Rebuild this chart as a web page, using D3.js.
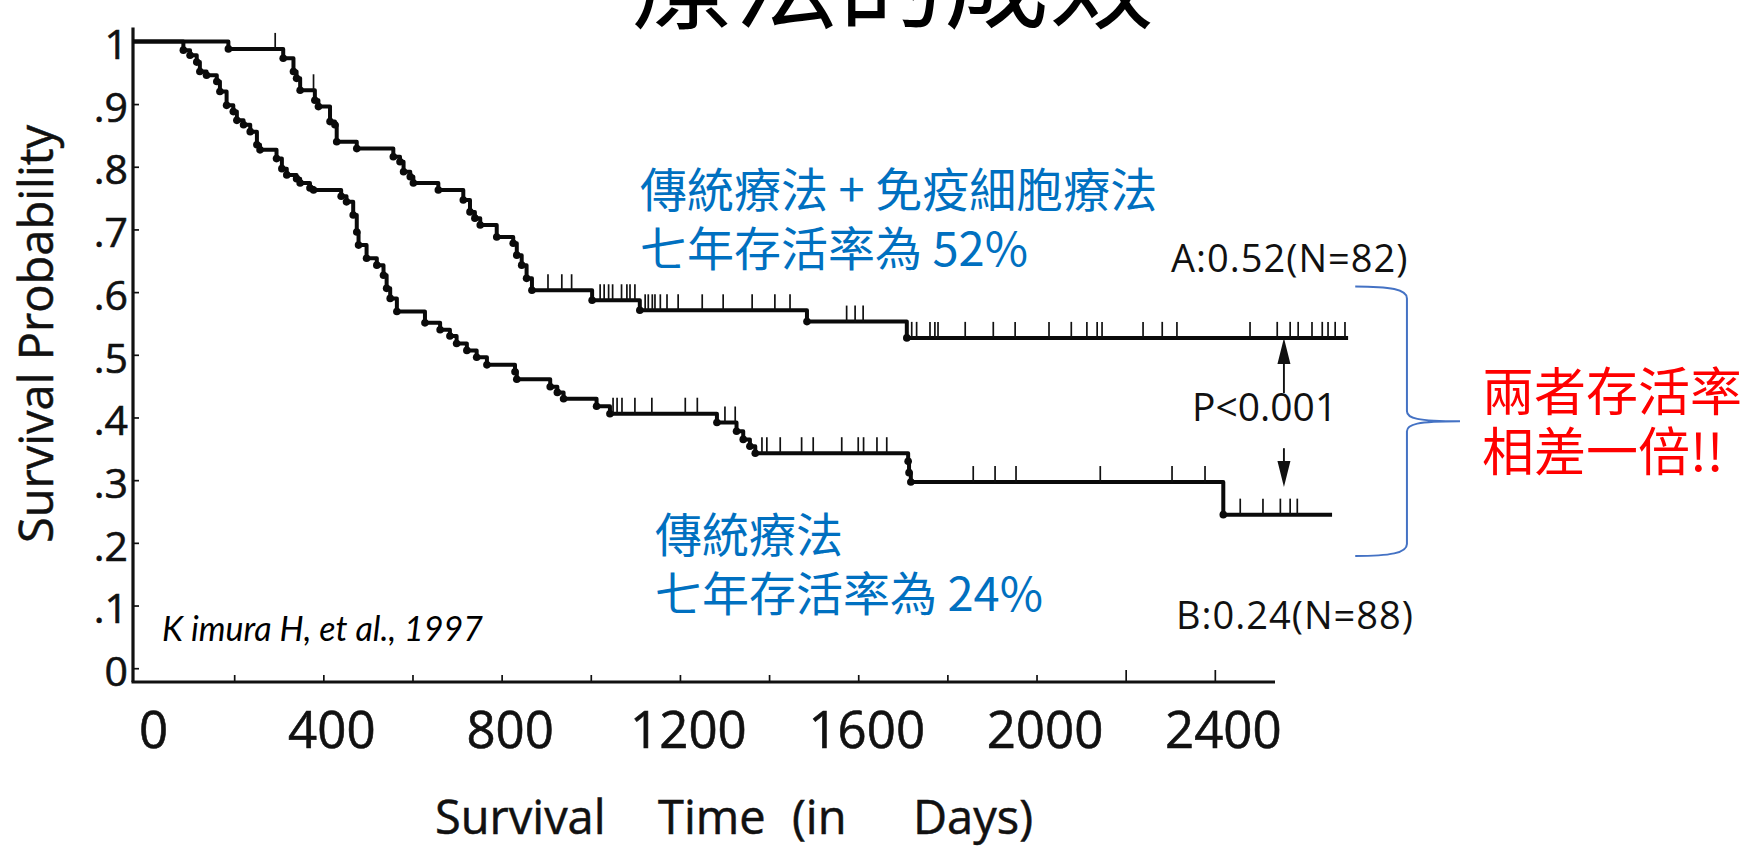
<!DOCTYPE html>
<html><head><meta charset="utf-8">
<script src="https://cdn.jsdelivr.net/npm/d3@7/dist/d3.min.js"></script>
<style>html,body{margin:0;padding:0;background:#fff;overflow:hidden}</style>
</head><body>
<svg id="chart" width="1748" height="847"></svg>
<script>
// ---------- data ----------
const xTickValues = [0, 200, 400, 600, 800, 1000, 1200, 1400, 1600, 1800, 2000, 2200, 2400];
const xLabelValues = [0, 400, 800, 1200, 1600, 2000, 2400];
const yTickValues = [0, 0.1, 0.2, 0.3, 0.4, 0.5, 0.6, 0.7, 0.8, 0.9, 1];
const yTickLabels = ["0", ".1", ".2", ".3", ".4", ".5", ".6", ".7", ".8", ".9", "1"];

// Group A: conventional therapy + immune cell therapy (event times in days, survival after the step)
const timesA = [0, 187, 310, 333, 340, 348, 381, 389, 415, 426, 430, 475, 557, 572, 580, 595, 602, 658,
  714, 729, 740, 752, 789, 826, 834, 845, 856, 868, 1003, 1110, 1485, 1709];
const survA = [1.0, 0.988, 0.973, 0.952, 0.941, 0.922, 0.906, 0.896, 0.872, 0.867, 0.840, 0.829, 0.816, 0.808, 0.792, 0.784, 0.774, 0.763,
  0.747, 0.728, 0.718, 0.707, 0.688, 0.678, 0.659, 0.643, 0.622, 0.603, 0.587, 0.571, 0.553, 0.527];
const censorA = [292, 378, 904, 935, 957, 1021, 1030, 1040, 1049, 1069, 1081, 1088, 1099, 1122, 1129, 1138, 1144,
  1156, 1171, 1196, 1250, 1297, 1362, 1413, 1447, 1574, 1593, 1611, 1720, 1731, 1761, 1772, 1779, 1840, 1903,
  1952, 2028, 2078, 2113, 2136, 2147, 2239, 2282, 2315, 2479, 2540, 2569, 2587, 2618, 2641, 2654, 2670, 2692];
const endA = 2699;

// Group B: conventional therapy
const timesB = [0, 86, 101, 116, 123, 138, 161, 168, 183, 198, 206, 221, 236, 251, 258, 295, 307, 318, 340, 348,
  370, 378, 440, 452, 467, 475, 479, 497, 520, 535, 542, 550, 565, 628, 662, 684, 699, 722, 744, 767, 830,
  834, 909, 925, 939, 1013, 1043, 1283, 1327, 1342, 1357, 1369, 1712, 1714, 1718, 2419];
const survB = [1.0, 0.986, 0.978, 0.967, 0.952, 0.946, 0.936, 0.920, 0.898, 0.888, 0.874, 0.867, 0.856, 0.835, 0.827, 0.813, 0.797, 0.787, 0.781, 0.774,
  0.766, 0.763, 0.753, 0.744, 0.723, 0.696, 0.675, 0.654, 0.643, 0.627, 0.606, 0.590, 0.569, 0.551, 0.540, 0.530, 0.518, 0.507, 0.496, 0.484, 0.473,
  0.461, 0.449, 0.440, 0.430, 0.418, 0.406, 0.392, 0.378, 0.365, 0.354, 0.343, 0.330, 0.312, 0.297, 0.245];
const censorB = [1050, 1059, 1070, 1099, 1137, 1212, 1239, 1301, 1324, 1384, 1395, 1425, 1473, 1499, 1563, 1600,
  1612, 1642, 1664, 1858, 1907, 1954, 2143, 2304, 2378, 2457, 2508, 2547, 2569, 2585];
const endB = 2663;

// annotation values (days / survival)
const arrowDay = 2555;
const arrowUpRange = [0.439, 0.527];
const arrowDownRange = [0.351, 0.289];
const braceDays = [2715, 2831, 2950];
const braceRange = [0.609, 0.394, 0.179];

// ---------- scales ----------
const svg = d3.select("#chart");
const x = d3.scaleLinear().domain([-27, 2535]).range([133, 1275]);
const y = d3.scaleLinear().domain([-0.022, 1.022]).range([682, 27.6]);

// ---------- axes ----------
const gx = svg.append("g").attr("transform", `translate(0,${y.range()[0]})`)
  .call(d3.axisBottom(x).tickValues(xTickValues).tickSizeInner(-8).tickSizeOuter(0).tickPadding(30)
    .tickFormat(d => xLabelValues.includes(d) ? String(d) : ""));
gx.select(".domain").remove();
gx.selectAll(".tick line").attr("stroke", "#111").attr("stroke-width", 1.7)
  .attr("y2", d => d === 0 ? 0 : (d >= 2200 ? -12 : -7));
gx.selectAll(".tick text").attr("font-family", "'Open Sans', sans-serif").attr("font-size", 51)
  .attr("fill", "#111").attr("stroke", "#111").attr("stroke-width", 0.6).attr("dx", 8);

const gy = svg.append("g").attr("transform", `translate(${x.range()[0]},0)`)
  .call(d3.axisLeft(y).tickValues(yTickValues).tickSizeInner(-6).tickSizeOuter(0).tickPadding(5)
    .tickFormat((d, i) => yTickLabels[i]));
gy.select(".domain").remove();
gy.selectAll(".tick line").attr("stroke", "#111").attr("stroke-width", 1.7);
gy.selectAll(".tick text").attr("font-family", "'Open Sans', sans-serif").attr("font-size", 41)
  .attr("fill", "#111").attr("stroke", "#111").attr("stroke-width", 0.6).attr("dy", "0.42em");

// axis lines
svg.append("line").attr("x1", x.range()[0]).attr("x2", x.range()[0])
  .attr("y1", y.range()[0]).attr("y2", y.range()[1])
  .attr("stroke", "#111").attr("stroke-width", 3.2);
svg.append("line").attr("x1", x.range()[0] - 1.5).attr("x2", x.range()[1])
  .attr("y1", y.range()[0]).attr("y2", y.range()[0])
  .attr("stroke", "#111").attr("stroke-width", 2.8);

// ---------- survival curves ----------
function series(times, surv, end) {
  const pts = times.map((t, i) => [i === 0 ? x.domain()[0] : t, surv[i]]);
  pts.push([end, surv[surv.length - 1]]);
  return pts;
}
function survAt(times, surv, t) {
  let v = surv[0];
  for (let i = 0; i < times.length; i++) if (times[i] <= t) v = surv[i];
  return v;
}
const line = d3.line().x(d => x(d[0])).y(d => y(d[1])).curve(d3.curveStepAfter);

[[timesA, survA, censorA, endA], [timesB, survB, censorB, endB]].forEach(([T, S, C, E]) => {
  svg.append("path").datum(series(T, S, E)).attr("d", line)
    .attr("fill", "none").attr("stroke", "#0a0a0a").attr("stroke-width", 4)
    .attr("stroke-linejoin", "round");
  svg.append("g").selectAll("circle").data(T.slice(1)).join("circle")
    .attr("cx", t => x(t)).attr("cy", (t, i) => y(S[i + 1])).attr("r", 3.8).attr("fill", "#0a0a0a");
  svg.append("g").selectAll("line").data(C).join("line")
    .attr("x1", t => x(t)).attr("x2", t => x(t))
    .attr("y1", t => y(survAt(T, S, t))).attr("y2", t => y(survAt(T, S, t)) - 16)
    .attr("stroke", "#111").attr("stroke-width", 1.7);
});

// ---------- P arrows ----------
function arrow(from, to) {
  const xa = x(arrowDay), y0 = y(from), y1 = y(to);
  const dir = Math.sign(y1 - y0);
  svg.append("line").attr("x1", xa).attr("x2", xa).attr("y1", y0).attr("y2", y1 - dir * 20)
    .attr("stroke", "#111").attr("stroke-width", 1.9);
  svg.append("path").attr("d", `M${xa},${y1} L${xa - 6.5},${y1 - dir * 26} L${xa + 6.5},${y1 - dir * 26} Z`)
    .attr("fill", "#111");
}
arrow(arrowUpRange[0], arrowUpRange[1]);
arrow(arrowDownRange[0], arrowDownRange[1]);

// ---------- brace ----------
{
  const [xa, xb, xt] = braceDays.map(x);
  const [yt, ym, yb] = braceRange.map(y);
  const d = `M${xa},${yt} C${xa + 35},${yt} ${xb},${yt + 3} ${xb},${yt + 12} L${xb},${ym - 10} ` +
    `C${xb},${ym - 3} ${xb + 10},${ym} ${xt},${ym} C${xb + 10},${ym} ${xb},${ym + 3} ${xb},${ym + 10} ` +
    `L${xb},${yb - 12} C${xb},${yb - 3} ${xa + 35},${yb} ${xa},${yb}`;
  svg.append("path").attr("d", d).attr("fill", "none").attr("stroke", "#4472C4").attr("stroke-width", 2);
}

// ---------- texts ----------
const sans = "'Open Sans', sans-serif";
const cjk = "'Noto Sans CJK TC', 'Noto Sans CJK SC', sans-serif";

svg.append("text").attr("x", 629).attr("y", 20).attr("font-family", cjk).attr("font-size", 105)
  .attr("fill", "#000").text("療法的成效");

svg.append("text").attr("transform", "translate(53,334) rotate(-90)").attr("text-anchor", "middle")
  .attr("font-family", sans).attr("font-size", 47).attr("fill", "#111")
  .attr("stroke", "#111").attr("stroke-width", 0.5)
  .text("Survival Probability");

const xt = svg.append("text").attr("y", 834).attr("font-family", sans)
  .attr("font-size", 47).attr("fill", "#111").attr("stroke", "#111").attr("stroke-width", 0.5);
[["Survival", 435], ["Time", 658], ["(in", 792], ["Days)", 913]].forEach(([w, px]) =>
  xt.append("tspan").attr("x", px).text(w));

svg.append("text").attr("x", 162).attr("y", 641).attr("font-family", "Lato, sans-serif")
  .attr("font-style", "italic").attr("font-size", 34).attr("fill", "#000").text("K imura H, et al., 1997");

svg.append("text").attr("x", 1171).attr("y", 272).attr("font-family", sans).attr("font-size", 38)
  .attr("letter-spacing", 1).attr("fill", "#111").text("A:0.52(N=82)");
svg.append("text").attr("x", 1176).attr("y", 629).attr("font-family", sans).attr("font-size", 38)
  .attr("letter-spacing", 1).attr("fill", "#111").text("B:0.24(N=88)");
svg.append("text").attr("x", 1192).attr("y", 421).attr("font-family", sans).attr("font-size", 39)
  .attr("fill", "#111").text("P<0.001");

const blue = "#0070C0";
function blueText(px, py, str) {
  svg.append("text").attr("x", px).attr("y", py).attr("font-family", cjk).attr("font-size", 47)
    .attr("fill", blue).text(str);
}
blueText(640, 207, "傳統療法 + 免疫細胞療法");
blueText(640, 266, "七年存活率為 52%");
blueText(655, 552, "傳統療法");
blueText(655, 611, "七年存活率為 24%");

svg.append("text").attr("x", 1482).attr("y", 411).attr("font-family", cjk).attr("font-size", 52)
  .attr("fill", "#FF0000").text("兩者存活率");
svg.append("text").attr("x", 1482).attr("y", 471).attr("font-family", cjk).attr("font-size", 52)
  .attr("fill", "#FF0000").text("相差一倍!!");
</script>
</body></html>
